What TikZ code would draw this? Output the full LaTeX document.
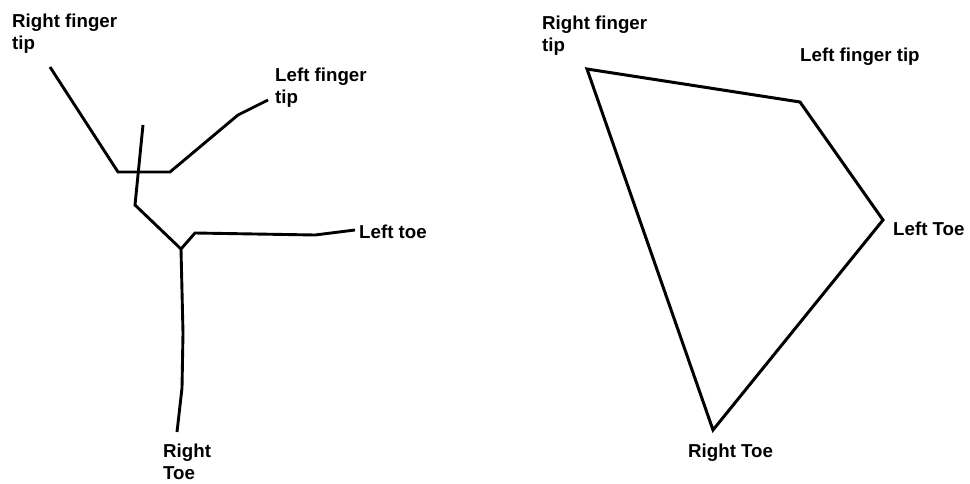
\documentclass[tikz,border=0pt]{standalone}
\usepackage{fontspec}
\setmainfont{Liberation Sans}
\usetikzlibrary{positioning}

\begin{document}
\begin{tikzpicture}[x=1pt,y=-1pt,font=\fontsize{18.7}{22}\selectfont\bfseries,
     lbl/.style={inner sep=0pt,align=left},
     limb/.style={line width=2.9pt,line join=miter},
     hull/.style={line width=3pt,line join=miter}]
    \useasboundingbox (0,0) rectangle (970,484);
    % stick figure
    \coordinate (rf)  at (50,67);
    \coordinate (rsh) at (118,172);
    \coordinate (lsh) at (170,172);
    \coordinate (lel) at (238,115);
    \coordinate (lf)  at (268,100);
    \coordinate (hd)  at (143,125);
    \coordinate (wst) at (135,205);
    \coordinate (hip) at (181,249);
    \coordinate (lkn) at (195,233);
    \coordinate (lsn) at (315,235);
    \coordinate (lt)  at (355,230);
    \coordinate (rkn) at (183,333);
    \coordinate (rsn) at (182,388);
    \coordinate (rt)  at (177,432);
    \draw[limb] (rf) -- (rsh) -- (lsh) -- (lel) -- (lf);
    \draw[limb] (hd) -- (wst) -- (hip);
    \draw[limb] (hip) -- (lkn) -- (lsn) -- (lt);
    \draw[limb] (hip) -- (rkn) -- (rsn) -- (rt);
    \node[lbl,anchor=north west] (srf) at (12,14)  {Right finger\\tip};
    \node[lbl,anchor=north west] (slf) at (275,68) {Left finger\\tip};
    \node[lbl,anchor=base west]  (slt) at (359,239) {Left toe};
    \node[lbl,anchor=north west] (srt) at (163,444) {Right\\Toe};
    % convex hull
    \coordinate (a) at (587,69);
    \coordinate (b) at (800,102);
    \coordinate (c) at (883,220);
    \coordinate (d) at (713,430);
    \draw[hull] (a) -- (b) -- (c) -- (d) -- cycle;
    \node[lbl,anchor=north west] (hrf) at (542,16)  {Right finger\\tip};
    \node[lbl,anchor=base west]  (hlf) at (800,62)  {Left finger tip};
    \node[lbl,anchor=base west]  (hlt) at (893,235) {Left Toe};
    \node[lbl,anchor=base west]  (hrt) at (688,457) {Right Toe};
\end{tikzpicture}
\end{document}
